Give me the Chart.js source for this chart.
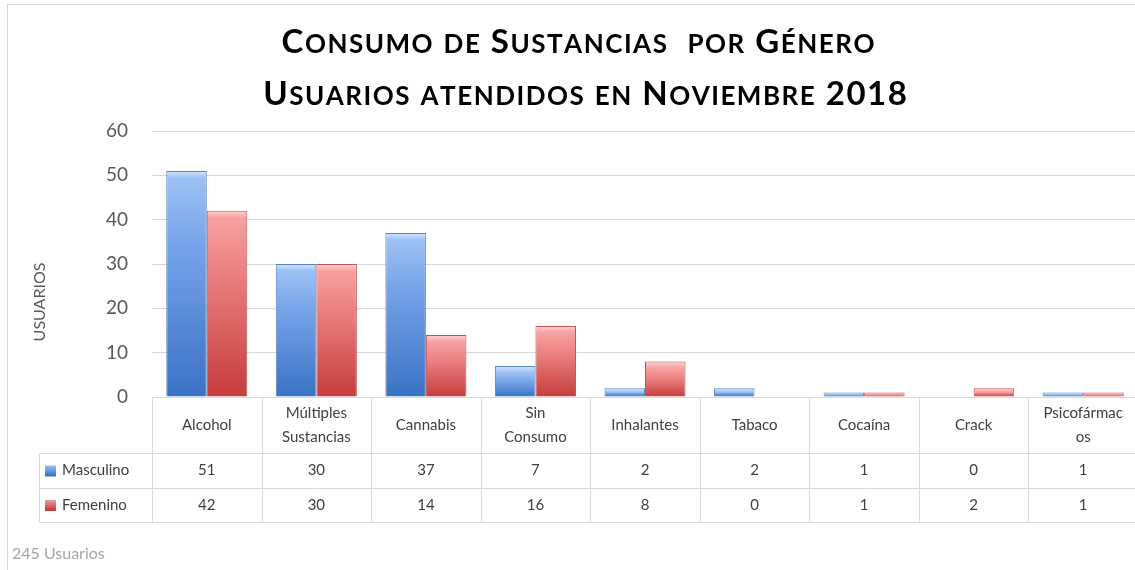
<!DOCTYPE html>
<html>
<head>
<meta charset="utf-8">
<script src="https://cdn.jsdelivr.net/npm/chart.js@4.4.1/dist/chart.umd.min.js"></script>
<style>
  html, body { margin: 0; padding: 0; background: #fff; overflow: hidden; }
  canvas { display: block; }
</style>
</head>
<body>
<canvas id="consumoChart" width="1140" height="570"></canvas>
<script>
const categorias = [
  "Alcohol",
  ["Múltiples", "Sustancias"],
  "Cannabis",
  ["Sin", "Consumo"],
  "Inhalantes",
  "Tabaco",
  "Cocaína",
  "Crack",
  ["Psicofármac", "os"],
];
const masculino = [51, 30, 37, 7, 2, 2, 1, 0, 1];
const femenino = [42, 30, 14, 16, 8, 0, 1, 2, 1];
const yTicks = [0, 10, 20, 30, 40, 50, 60];
const titulo = ["Consumo de Sustancias  por Género", "Usuarios atendidos en Noviembre 2018"];
const ejeY = "USUARIOS";
const nota = "245 Usuarios";

const FONT = "Lato, 'DejaVu Sans', sans-serif";

// degradado vertical por barra (claro arriba, oscuro abajo)
function barGradient(hi, top, mid, bottom) {
  return function (context) {
    const chart = context.chart;
    const y = chart.scales.y;
    if (!y || context.raw === undefined) return mid;
    const yTop = y.getPixelForValue(context.raw);
    const yBottom = y.getPixelForValue(0);
    if (!Number.isFinite(yTop) || !Number.isFinite(yBottom)) return mid;
    if (yBottom - yTop < 1) return bottom;
    const h = yBottom - yTop;
    const g = chart.ctx.createLinearGradient(0, yTop, 0, yBottom);
    const band = Math.min(0.45, 7 / h);
    g.addColorStop(0, hi);
    g.addColorStop(band, top);
    g.addColorStop(Math.min(0.6, band + 0.3), mid);
    g.addColorStop(1, bottom);
    return g;
  };
}

// título en versalitas: mayúsculas a tamaño completo, minúsculas en mayúscula reducida
function drawSmallCaps(ctx, text, cx, baseline, size, spacing) {
  const big = "bold " + size + "px " + FONT;
  const small = "bold " + Math.round(size * 0.8) + "px " + FONT;
  const parts = Array.from(text).map((ch) => {
    const isLower = ch !== ch.toUpperCase();
    ctx.font = isLower ? small : big;
    const c = ch.toUpperCase();
    return { c, font: isLower ? small : big, w: ctx.measureText(c).width };
  });
  const total = parts.reduce((s, p) => s + p.w, 0) + spacing * (parts.length - 1);
  let xx = cx - total / 2;
  ctx.textAlign = "left";
  ctx.textBaseline = "alphabetic";
  parts.forEach((p) => {
    ctx.font = p.font;
    ctx.fillText(p.c, xx, baseline);
    xx += p.w + spacing;
  });
}

const tablaPlugin = {
  id: "tablaDatos",
  afterDraw(chart) {
    const ctx = chart.ctx;
    const x = chart.scales.x;
    const area = chart.chartArea;
    const left = 39;
    const top = area.bottom;
    const row1 = 453;
    const row2 = 488;
    const bottom = 522;
    const half = (x.getPixelForValue(1) - x.getPixelForValue(0)) / 2;

    ctx.save();
    // marco exterior
    ctx.strokeStyle = "#d4d4d4";
    ctx.lineWidth = 1;
    ctx.strokeRect(7.5, 4.5, 1300, 700);

    // título
    ctx.fillStyle = "#000000";
    drawSmallCaps(ctx, titulo[0], 578, 53, 33, 1.5);
    drawSmallCaps(ctx, titulo[1], 585, 105, 33, 1.5);

    // líneas de la tabla
    ctx.strokeStyle = "#d9d9d9";
    ctx.beginPath();
    [row1, row2, bottom].forEach((yy) => {
      ctx.moveTo(left, yy + 0.5);
      ctx.lineTo(area.right + 5, yy + 0.5);
    });
    ctx.moveTo(left + 0.5, row1);
    ctx.lineTo(left + 0.5, bottom);
    for (let i = 0; i <= categorias.length; i++) {
      const xx = Math.round(x.getPixelForValue(i) - half) + 0.5;
      ctx.moveTo(xx, top);
      ctx.lineTo(xx, bottom);
    }
    ctx.stroke();

    // encabezados y valores
    ctx.fillStyle = "#404040";
    ctx.font = "15px " + FONT;
    ctx.textAlign = "center";
    ctx.textBaseline = "middle";
    categorias.forEach((cat, i) => {
      const cx = x.getPixelForValue(i);
      const lines = Array.isArray(cat) ? cat : [cat];
      const cy = (top + row1) / 2;
      lines.forEach((l, j) => {
        ctx.fillText(l, cx, cy + (j - (lines.length - 1) / 2) * 24);
      });
      ctx.fillText(String(masculino[i]), cx, (row1 + row2) / 2);
      ctx.fillText(String(femenino[i]), cx, (row2 + bottom) / 2);
    });

    // leyenda
    const series = [
      { label: chart.data.datasets[0].label, y: (row1 + row2) / 2, c1: "#9cc0f2", c2: "#3d74c2" },
      { label: chart.data.datasets[1].label, y: (row2 + bottom) / 2, c1: "#f29a9a", c2: "#c23c3c" },
    ];
    series.forEach((s) => {
      const g = ctx.createLinearGradient(0, s.y - 5, 0, s.y + 5);
      g.addColorStop(0, s.c1);
      g.addColorStop(1, s.c2);
      ctx.fillStyle = g;
      ctx.fillRect(45, s.y - 5, 11, 11);
      ctx.fillStyle = "#404040";
      ctx.textAlign = "left";
      ctx.fillText(s.label, 62, s.y);
    });

    // título del eje Y
    ctx.save();
    ctx.translate(40, 302);
    ctx.rotate(-Math.PI / 2);
    ctx.textAlign = "center";
    ctx.fillStyle = "#595959";
    ctx.font = "16px " + FONT;
    ctx.fillText(ejeY, 0, 0);
    ctx.restore();

    // nota al pie
    ctx.fillStyle = "#a6a6a6";
    ctx.font = "16px " + FONT;
    ctx.textAlign = "left";
    ctx.fillText(nota, 12, 554);
    ctx.restore();
  },
};

new Chart(document.getElementById("consumoChart"), {
  type: "bar",
  data: {
    labels: categorias,
    datasets: [
      {
        label: "Masculino",
        data: masculino,
        backgroundColor: barGradient("#d4e6fd", "#9cc1f4", "#76a3e8", "#3a72c4"),
        borderColor: "#5a86c0",
        borderWidth: 1,
        borderSkipped: "bottom",
        barPercentage: 1.0,
        categoryPercentage: 0.74,
      },
      {
        label: "Femenino",
        data: femenino,
        backgroundColor: barGradient("#fdd3d3", "#f7a0a0", "#ea8080", "#c63c3c"),
        borderColor: "#bd5553",
        borderWidth: 1,
        borderSkipped: "bottom",
        barPercentage: 1.0,
        categoryPercentage: 0.74,
      },
    ],
  },
  options: {
    responsive: false,
    animation: false,
    layout: {
      padding: { top: 131, left: 0, right: 2, bottom: 173 },
    },
    plugins: {
      legend: { display: false },
      tooltip: { enabled: false },
      title: { display: false },
    },
    scales: {
      x: {
        display: false,
      },
      y: {
        min: 0,
        max: 60,
        afterBuildTicks: (scale) => {
          scale.ticks = yTicks.map((v) => ({ value: v }));
        },
        afterFit: (scale) => {
          scale.width = 152;
        },
        border: { display: false },
        grid: { color: "#d9d9d9", drawTicks: false },
        ticks: {
          color: "#595959",
          padding: 24,
          font: { family: FONT, size: 19 },
        },
      },
    },
  },
  plugins: [tablaPlugin],
});
</script>
</body>
</html>
